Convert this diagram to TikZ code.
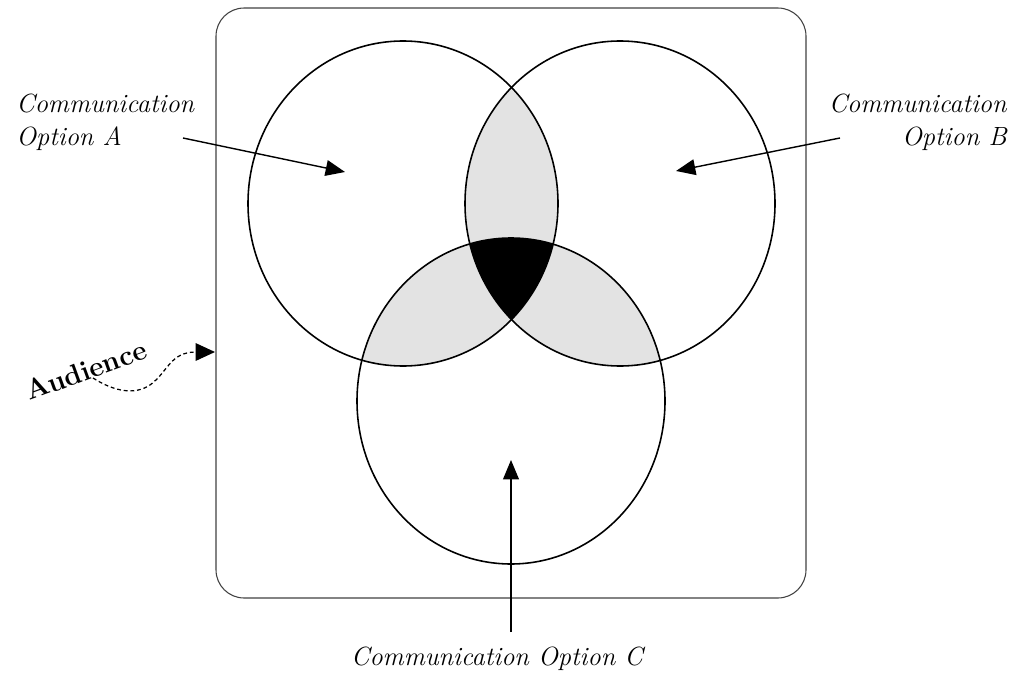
\documentclass[tikz,border=0pt]{standalone}
\usetikzlibrary{arrows.meta}
\definecolor{lensgray}{gray}{0.89}
\tikzset{
  optlabel/.style={font=\fontsize{15}{19.3}\selectfont\itshape, inner sep=0pt},
  ring/.style={line width=0.9pt},
  pointer/.style={line width=0.8pt, -{Triangle[length=11pt, width=9pt]}},
}
\def\ringA{(403,203.5) ellipse [x radius=155, y radius=162.5]}
\def\ringB{(620,203.5) ellipse [x radius=155, y radius=162.5]}
\def\ringC{(511,401) ellipse [x radius=154, y radius=163]}
\begin{document}
\begin{tikzpicture}[x=0.02cm, y=-0.02cm]
\useasboundingbox (0,0) rectangle (1011,679);
% audience frame
\draw[black!75, line width=0.6pt, rounded corners=16pt] (216,8) rectangle (806,598);
% pairwise overlaps
\begin{scope}
\clip \ringA;
\fill[lensgray] \ringB;
\fill[lensgray] \ringC;
\end{scope}
\begin{scope}
\clip \ringB;
\fill[lensgray] \ringC;
\end{scope}
% all three
\begin{scope}
\clip \ringA;
\clip \ringB;
\fill \ringC;
\end{scope}
\draw[ring] \ringA;
\draw[ring] \ringB;
\draw[ring] \ringC;
% labels
\node[optlabel, align=left, anchor=base west] (optA) at (16,146) {Communication\\Option A};
\node[optlabel, align=right, anchor=base east] (optB) at (1007,146) {Communication\\Option B};
\node[optlabel, anchor=base] (optC) at (497,665) {Communication Option C};
\node[font=\fontsize{16}{19}\selectfont\bfseries, rotate=20, inner sep=0pt] (aud) at (86,370) {Audience};
% pointers
\coordinate (tailA) at (183,138);
\coordinate (tipA) at (345,172);
\coordinate (tailB) at (840,138);
\coordinate (tipB) at (676,171);
\coordinate (tailC) at (511,632);
\coordinate (tipC) at (511,460);
\coordinate (audtail) at (93,378);
\coordinate (audtip) at (215,352);
\draw[pointer] (tailA) -- (tipA);
\draw[pointer] (tailB) -- (tipB);
\draw[pointer] (tailC) -- (tipC);
\draw[line width=0.7pt, dash pattern=on 2.2pt off 1.6pt, -{Triangle[length=11pt, width=10pt]}]
  (audtail) .. controls (115,392) and (135,395) .. (150,385)
  .. controls (168,372) and (170,352) .. (audtip);
\end{tikzpicture}
\end{document}
